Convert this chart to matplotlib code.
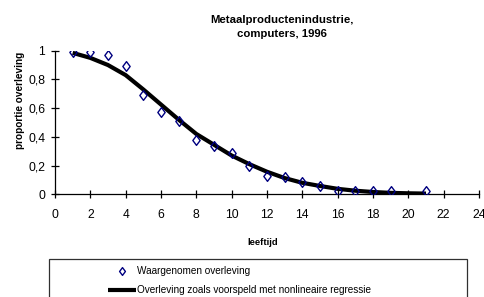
import matplotlib
matplotlib.use("Agg")
import matplotlib.pyplot as plt
from matplotlib.patches import Rectangle
from matplotlib.path import Path

plt.rcParams['font.family'] = ['Liberation Sans', 'DejaVu Sans']

# Data
leeftijd = [1, 2, 3, 4, 5, 6, 7, 8, 9, 10, 11, 12, 13, 14, 15, 16, 17, 18, 19, 21]
waargenomen = [0.993, 0.99, 0.97, 0.893, 0.69, 0.575, 0.513, 0.378, 0.336, 0.29,
               0.197, 0.13, 0.123, 0.087, 0.059, 0.025, 0.023, 0.023, 0.023, 0.023]

curve_x = [1, 2, 3, 4, 5, 6, 7, 8, 9, 10, 11, 12, 13, 14, 15, 16, 17, 18, 19, 20, 21]
curve_y = [0.985, 0.95, 0.90, 0.83, 0.73, 0.625, 0.52, 0.42, 0.345, 0.27, 0.21,
           0.157, 0.113, 0.08, 0.058, 0.038, 0.025, 0.016, 0.010, 0.007, 0.005]

xticks = [0, 2, 4, 6, 8, 10, 12, 14, 16, 18, 20, 22, 24]
yticks = [0, 0.2, 0.4, 0.6, 0.8, 1.0]
ytick_labels = ["0", "0,2", "0,4", "0,6", "0,8", "1"]

title = "Metaalproductenindustrie,\ncomputers, 1996"
xlabel = "leeftijd"
ylabel = "proportie overleving"
label_obs = "Waargenomen overleving"
label_fit = "Overleving zoals voorspeld met nonlineaire regressie"

W, H = 485, 297
fig = plt.figure(figsize=(W / 100, H / 100), dpi=100)
ax = fig.add_axes([55 / W, 1 - 194.3 / H, (479 - 55) / W, (194.3 - 50.7) / H])

diamond = Path([(0, 1), (0.75, 0), (0, -1), (-0.75, 0), (0, 1)],
               [Path.MOVETO, Path.LINETO, Path.LINETO, Path.LINETO, Path.CLOSEPOLY])

line_fit, = ax.plot(curve_x, curve_y, color='black', lw=3, solid_joinstyle='round',
                    solid_capstyle='butt', zorder=2, label=label_fit)
pts, = ax.plot(leeftijd, waargenomen, linestyle='none', marker=diamond, markersize=7,
               markerfacecolor='none', markeredgecolor='#000080', markeredgewidth=1.0,
               zorder=3, label=label_obs)

ax.set_xlim(0, 24)
ax.set_ylim(0, 1)
ax.set_xticks(xticks)
ax.set_xticklabels([str(t) for t in xticks])
ax.set_yticks(yticks)
ax.set_yticklabels(ytick_labels)
for s in ['top', 'right']:
    ax.spines[s].set_visible(False)
for s in ['left', 'bottom']:
    ax.spines[s].set_linewidth(0.9)
ax.tick_params(axis='both', direction='inout', length=6, width=0.9, labelsize=8.7)
ax.tick_params(axis='x', pad=7.5)
ax.tick_params(axis='y', pad=4)

fig.text(281.7 / W, 1 - 27 / H, title, ha='center', va='center', fontsize=8.2,
         fontweight='bold', linespacing=1.45)
fig.text(263 / W, 1 - 242.7 / H, xlabel, ha='center', va='center', fontsize=6.8,
         fontweight='bold')
fig.text(20 / W, 1 - 100 / H, ylabel, ha='center', va='center', fontsize=7.2,
         fontweight='bold', rotation=90)

# legend frame
fig.patches.append(Rectangle((49 / W, -0.05), (466.7 - 49) / W, 0.05 + 1 - 259 / H,
                             transform=fig.transFigure, fill=False,
                             edgecolor='#303030', lw=0.9))
fig.legend(handles=[pts, line_fit], loc='upper left',
           bbox_to_anchor=(108 / W, 1 - 266.5 / H), frameon=False, fontsize=7.2,
           handlelength=2.8, handletextpad=0.1, borderpad=0, borderaxespad=0,
           labelspacing=0.85, numpoints=1, markerscale=0.8)

fig.savefig("out.png", dpi=100)
